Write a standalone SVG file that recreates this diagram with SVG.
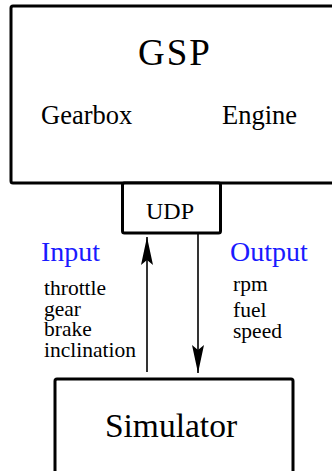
<svg xmlns="http://www.w3.org/2000/svg" width="332" height="471" viewBox="0 0 332 471">
<style>
.box{fill:#fff;stroke:#000;stroke-width:3;stroke-linejoin:round}
text{font-family:'Liberation Serif','DejaVu Serif',serif;fill:#000}
.blue{fill:#1a1aff}
.conn{stroke:#000;stroke-width:1.6;fill:none}
</style>
<defs>
<marker id="arr" markerUnits="userSpaceOnUse" markerWidth="30" markerHeight="14" viewBox="0 -7 30 14" refX="28" refY="0" orient="auto">
<path d="M28,0 L0,-6 L5,0 L0,6 Z" fill="#000"/>
</marker>
</defs>
<g id="gsp">
<rect class="box" x="11" y="6" width="330" height="177" rx="2"/>
<text font-family="Liberation Serif" x="175" y="65" font-size="37" text-anchor="middle" letter-spacing="2">GSP</text>
<text font-family="Liberation Serif" x="41" y="124" font-size="26.5">Gearbox</text>
<text font-family="Liberation Serif" x="222" y="124" font-size="26.5">Engine</text>
</g>
<g id="udp">
<rect class="box" x="122.5" y="183" width="98" height="50" rx="2"/>
<text font-family="Liberation Serif" x="170" y="219" font-size="24" text-anchor="middle">UDP</text>
</g>
<g id="simulator">
<rect class="box" x="55" y="379" width="238" height="110" rx="2"/>
<text font-family="Liberation Serif" x="171" y="437" font-size="33.5" text-anchor="middle">Simulator</text>
</g>
<g id="input-label">
<text font-family="Liberation Serif" class="blue" x="41" y="261" font-size="28">Input</text>
<text font-family="Liberation Serif" x="44" y="295" font-size="21.5">throttle</text>
<text font-family="Liberation Serif" x="44" y="316" font-size="21.5">gear</text>
<text font-family="Liberation Serif" x="44" y="336" font-size="21.5">brake</text>
<text font-family="Liberation Serif" x="44" y="357" font-size="21.5">inclination</text>
</g>
<g id="output-label">
<text font-family="Liberation Serif" class="blue" x="230" y="261" font-size="28">Output</text>
<text font-family="Liberation Serif" x="233" y="291" font-size="21.5">rpm</text>
<text font-family="Liberation Serif" x="233" y="317" font-size="21.5">fuel</text>
<text font-family="Liberation Serif" x="233" y="338" font-size="21.5">speed</text>
</g>
<g id="connectors">
<line class="conn" x1="147" y1="372" x2="147" y2="237" marker-end="url(#arr)"/>
<line class="conn" x1="198" y1="234" x2="198" y2="373" marker-end="url(#arr)"/>
</g>
</svg>
